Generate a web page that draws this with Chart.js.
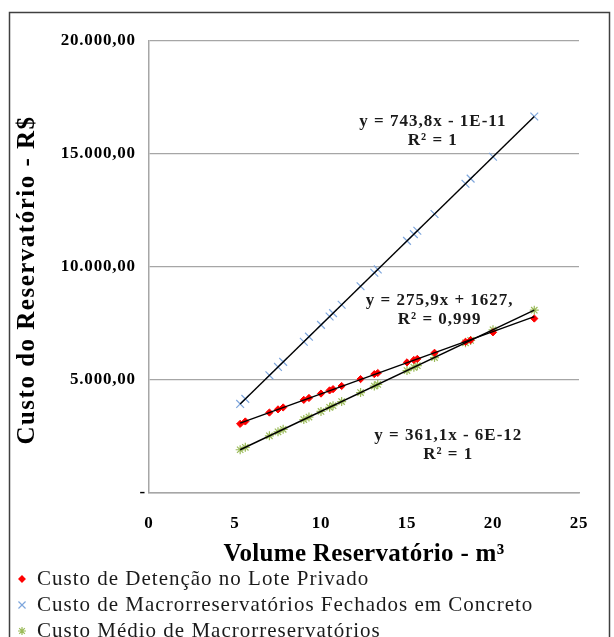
<!DOCTYPE html>
<html>
<head>
<meta charset="utf-8">
<script src="https://cdn.jsdelivr.net/npm/chart.js@4.4.0/dist/chart.umd.min.js"></script>
<style>
  html, body { margin: 0; padding: 0; background: #fff; }
</style>
</head>
<body>
<canvas id="chart" width="614" height="637"></canvas>
<script>
// reservoir volumes (m3), shared by the three series
const volumes = [5.3, 5.6, 7.0, 7.5, 7.8, 9.0, 9.3, 10.0, 10.5, 10.7, 11.2, 12.3, 13.1, 13.3, 15.0, 15.4, 15.6, 16.6, 18.4, 18.7, 20.0, 22.4];

// costs (R$)
const custoLote = [3060, 3165, 3560, 3700, 3785, 4120, 4205, 4400, 4540, 4595, 4735, 5040, 5260, 5310, 5780, 5885, 5935, 6205, 6690, 6765, 7110, 7720];
const custoFechados = [3942, 4165, 5207, 5579, 5802, 6694, 6917, 7438, 7810, 7959, 8331, 9149, 9744, 9893, 11157, 11455, 11603, 12347, 13686, 13909, 14876, 16661];
const custoMedio = [1914, 2022, 2528, 2708, 2817, 3250, 3358, 3611, 3792, 3864, 4044, 4442, 4730, 4803, 5417, 5561, 5633, 5994, 6644, 6753, 7222, 8089];

// trendline end points
const trendX = [5.3, 22.4];
const trendLote = [3089, 7807];
const trendFechados = [3942, 16661];
const trendMedio = [1914, 8089];

const seriesNames = ['Custo de Detenção no Lote Privado', 'Custo de Macrorreservatórios Fechados em Concreto', 'Custo Médio de Macrorreservatórios'];
const yTickValues = [0, 5000, 10000, 15000, 20000];
const yTickLabels = ['-', '5.000,00', '10.000,00', '15.000,00', '20.000,00'];
const xTickLabels = ['0', '5', '10', '15', '20', '25'];

const equations = [
    { lines: ['y = 743,8x - 1E-11', 'R² = 1'], x: 16.5, y: 16440 },
    { lines: ['y = 275,9x + 1627,', 'R² = 0,999'], x: 16.9, y: 8530 },
    { lines: ['y = 361,1x - 6E-12', 'R² = 1'], x: 17.4, y: 2530 }
];

const serif = "'Liberation Serif', 'DejaVu Serif', serif";
const colRed = '#ff0000', colBlue = '#7ea6dc', colGreen = '#9bbb59';

function pts(xs, ys) {
    return xs.map((x, i) => ({ x: x, y: ys[i] }));
}

const decor = {
    id: 'decor',
    beforeDraw(chart) {
        const ctx = chart.ctx;
        ctx.save();
        ctx.fillStyle = '#fff';
        ctx.fillRect(0, 0, chart.width, chart.height);
        ctx.strokeStyle = '#404040';
        ctx.lineWidth = 1.5;
        ctx.strokeRect(9.5, 12.5, 600, 640);
        ctx.restore();
        // wider spacing for the tick labels
        ctx.letterSpacing = '0.8px';
    },
    afterDraw(chart) {
        const ctx = chart.ctx;
        const xs = chart.scales.x, ys = chart.scales.y;
        const area = chart.chartArea;
        ctx.save();
        ctx.fillStyle = '#1a1a1a';

        // equations
        ctx.font = 'bold 17px ' + serif;
        ctx.letterSpacing = '1px';
        ctx.textAlign = 'center';
        ctx.textBaseline = 'middle';
        equations.forEach(eq => {
            const px = xs.getPixelForValue(eq.x);
            const py = ys.getPixelForValue(eq.y);
            eq.lines.forEach((t, i) => ctx.fillText(t, px, py + i * 19));
        });

        // axis titles
        ctx.fillStyle = '#000';
        ctx.font = 'bold 25px ' + serif;
        ctx.letterSpacing = '0.3px';
        ctx.fillText('Volume Reservatório - m³', (area.left + area.right) / 2, 555);
        ctx.save();
        ctx.translate(28, 280);
        ctx.rotate(-Math.PI / 2);
        ctx.font = 'bold 25px ' + serif;
        ctx.letterSpacing = '1.5px';
        ctx.fillText('Custo do Reservatório - R$', 0, 0);
        ctx.restore();

        // legend
        ctx.textAlign = 'left';
        ctx.font = '21px ' + serif;
        ctx.letterSpacing = '1px';
        chart.data.datasets.slice(0, 3).forEach((ds, i) => {
            const y = 579 + i * 26;
            ctx.fillStyle = ds.backgroundColor;
            ctx.strokeStyle = ds.borderColor;
            ctx.lineWidth = 1.2;
            Chart.helpers.drawPoint(ctx, { pointStyle: ds.pointStyle, radius: ds.pointRadius - 0.5, borderWidth: 1.2, rotation: 0 }, 22, y);
            ctx.fillStyle = '#1a1a1a';
            ctx.fillText(seriesNames[i], 37, y);
        });
        ctx.restore();
    }
};

const ctx = document.getElementById('chart');
new Chart(ctx, {
    type: 'scatter',
    data: {
        datasets: [
            { label: seriesNames[0], data: pts(volumes, custoLote), pointStyle: 'rectRot', pointRadius: 3.6,
              backgroundColor: colRed, borderColor: colRed, borderWidth: 1, order: 1 },
            { label: seriesNames[1], data: pts(volumes, custoFechados), pointStyle: 'crossRot', pointRadius: 5.5,
              backgroundColor: colBlue, borderColor: colBlue, borderWidth: 1.2, order: 1 },
            { label: seriesNames[2], data: pts(volumes, custoMedio), pointStyle: 'star', pointRadius: 4.5,
              backgroundColor: colGreen, borderColor: colGreen, borderWidth: 1.2, order: 1 },
            { type: 'line', data: pts(trendX, trendLote), borderColor: '#000', borderWidth: 1.4, pointRadius: 0, order: 0 },
            { type: 'line', data: pts(trendX, trendFechados), borderColor: '#000', borderWidth: 1.4, pointRadius: 0, order: 0 },
            { type: 'line', data: pts(trendX, trendMedio), borderColor: '#000', borderWidth: 1.4, pointRadius: 0, order: 0 }
        ]
    },
    options: {
        responsive: false,
        animation: false,
        layout: { padding: { top: 41, right: 35, left: 0, bottom: 0 } },
        plugins: { legend: { display: false }, tooltip: { enabled: false } },
        scales: {
            x: {
                type: 'linear', min: 0, max: 25,
                afterFit: s => { s.height = 144; },
                afterBuildTicks: s => { s.ticks = xTickLabels.map(v => ({ value: Number(v) })); },
                ticks: { callback: v => xTickLabels[v / 5], color: '#000', padding: 20,
                         font: { family: serif, size: 17, weight: 'bold' } },
                grid: { display: false, drawTicks: false },
                border: { display: true, color: '#a6a6a6', width: 1.5 }
            },
            y: {
                min: 0, max: 20000,
                afterFit: s => { s.width = 149; },
                afterBuildTicks: s => { s.ticks = yTickValues.map(v => ({ value: v })); },
                // two trailing spaces so the "-" for zero sits further right, as in the original
                ticks: { callback: v => { const t = yTickLabels[yTickValues.indexOf(v)]; return v === 0 ? t : t + '  '; },
                         color: '#000', padding: 3,
                         font: { family: serif, size: 17, weight: 'bold' } },
                grid: { color: '#a6a6a6', lineWidth: 1.3, drawTicks: false },
                border: { display: true, color: '#a6a6a6', width: 1.5 }
            }
        }
    },
    plugins: [decor]
});
</script>
</body>
</html>
